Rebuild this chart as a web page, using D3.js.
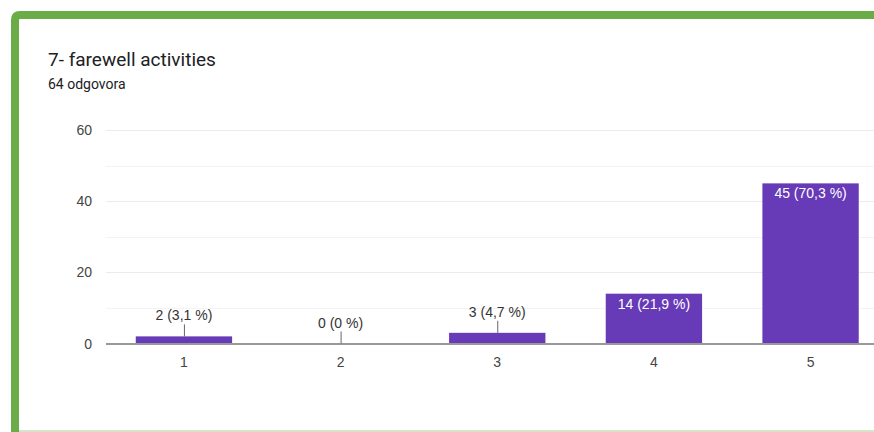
<!DOCTYPE html>
<html lang="en">
<head>
<meta charset="utf-8">
<title>7- farewell activities</title>
<style>
  body { margin: 0; background: #fff; overflow: hidden; }
  svg { display: block; }
</style>
<script src="https://d3js.org/d3.v7.min.js"></script>
</head>
<body>
<svg id="chart" width="874" height="432"></svg>
<script>
// data
var categories = ["1", "2", "3", "4", "5"];
var counts = [2, 0, 3, 14, 45];
var percents = ["3,1", "0", "4,7", "21,9", "70,3"];
var yTicks = [0, 20, 40, 60];
var totalLabel = "64 odgovora";
var title = "7- farewell activities";

var svg = d3.select("#chart");

// card frame (green left/top border)
svg.append("path")
  .attr("d", "M15,432 L15,20 Q15,15 20,15 L874,15")
  .attr("fill", "none")
  .attr("stroke", "#6aad48")
  .attr("stroke-width", 8);
svg.append("line")
  .attr("x1", 19).attr("x2", 874).attr("y1", 431).attr("y2", 431)
  .attr("stroke", "#c6dcb8").attr("stroke-width", 1.5);

svg.append("text")
  .attr("x", 48).attr("y", 66)
  .style("font-family", "Roboto, sans-serif")
  .style("font-size", "19px")
  .attr("fill", "#202124")
  .text(title);
svg.append("text")
  .attr("x", 48).attr("y", 89)
  .style("font-family", "Roboto, sans-serif")
  .style("font-size", "14px")
  .attr("fill", "#202124")
  .text(totalLabel);

var left = 106, bandW = 156.5;
var x = d3.scaleBand()
  .domain(categories)
  .range([left, left + bandW * categories.length])
  .paddingInner(0.385)
  .paddingOuter(0.19);

var y = d3.scaleLinear().domain([0, 60]).range([343.5, 130]);

var g = svg.append("g").style("font-family", "'Liberation Sans', Arial, sans-serif");

// minor + major gridlines
var grid = d3.range(10, 61, 10);
g.selectAll(".grid")
  .data(grid)
  .enter().append("line")
  .attr("x1", left).attr("x2", 874)
  .attr("y1", d => Math.round(y(d)) + 0.5)
  .attr("y2", d => Math.round(y(d)) + 0.5)
  .attr("stroke", d => d % 20 === 0 ? "#ebebeb" : "#f3f3f3")
  .attr("stroke-width", 1);

// y axis labels
g.selectAll(".ytick")
  .data(yTicks)
  .enter().append("text")
  .attr("x", 92)
  .attr("y", d => y(d) + 5)
  .attr("text-anchor", "end")
  .style("font-size", "14px")
  .attr("fill", "#444")
  .text(d => d);

var data = categories.map((c, i) => ({cat: c, v: counts[i], p: percents[i]}));

// bars
g.selectAll(".bar")
  .data(data)
  .enter().append("rect")
  .attr("x", d => x(d.cat))
  .attr("width", x.bandwidth())
  .attr("y", d => y(d.v))
  .attr("height", d => y(0) - y(d.v))
  .attr("fill", "#673ab7");

// baseline
g.append("line")
  .attr("x1", left).attr("x2", 874)
  .attr("y1", y(0) + 0.5).attr("y2", y(0) + 0.5)
  .attr("stroke", "#999").attr("stroke-width", 2);

// value labels
var inside = d => (y(0) - y(d.v)) > 30;
data.forEach(function(d) {
  var cx = x(d.cat) + x.bandwidth() / 2;
  var top = y(d.v);
  var txt = d.v + " (" + d.p + " %)";
  if (inside(d)) {
    g.append("text")
      .attr("x", cx).attr("y", top + 15)
      .attr("text-anchor", "middle")
      .style("font-size", "14px")
      .attr("fill", "#fff")
      .text(txt);
  } else {
    g.append("line")
      .attr("x1", cx + 0.5).attr("x2", cx + 0.5)
      .attr("y1", top).attr("y2", top - 12)
      .attr("stroke", "#666").attr("stroke-width", 1);
    g.append("text")
      .attr("x", cx).attr("y", top - 16)
      .attr("text-anchor", "middle")
      .style("font-size", "14px")
      .attr("fill", "#333")
      .text(txt);
  }
});

// x axis labels
g.selectAll(".xtick")
  .data(categories)
  .enter().append("text")
  .attr("x", d => x(d) + x.bandwidth() / 2)
  .attr("y", 367)
  .attr("text-anchor", "middle")
  .style("font-size", "14px")
  .attr("fill", "#444")
  .text(d => d);
</script>
</body>
</html>
